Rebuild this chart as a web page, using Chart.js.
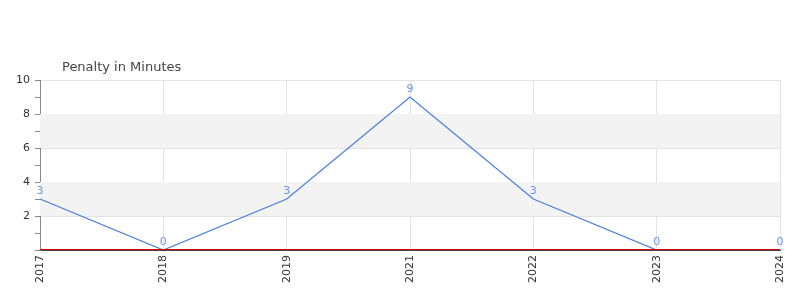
<!DOCTYPE html>
<html><head><meta charset="utf-8">
<script src="https://cdn.jsdelivr.net/npm/chart.js@4"></script>
<style>html,body{margin:0;padding:0;background:#fff}#wrap{width:800px;height:300px}</style>
</head><body><div id="wrap"><canvas id="c" width="800" height="300"></canvas></div>
<script>
const categories = ["2017","2018","2019","2021","2022","2023","2024"];
const penaltyMinutes = [3,0,3,9,3,0,0];
const titleText = "Penalty in Minutes";
const yTickLabels = [2,4,6,8,10];

const FONT = "'DejaVu Sans', sans-serif";

const bgPlugin = {
  id:'bands',
  beforeDatasetsDraw(chart){
    const {ctx, chartArea:a, scales:{y}} = chart;
    ctx.save();
    ctx.fillStyle = '#f3f3f3';
    [[2,4],[6,8]].forEach(([lo,hi])=>{
      const t = y.getPixelForValue(hi), b = y.getPixelForValue(lo);
      ctx.fillRect(a.left, t, a.right-a.left, b-t);
    });
    ctx.restore();
  },
  afterDatasetsDraw(chart){
    const {ctx, chartArea:a, scales:{x,y}} = chart;
    ctx.save();
    // zero line
    const z = Math.round(y.getPixelForValue(0)) - 1;
    ctx.fillStyle = '#dd0000';
    ctx.fillRect(a.left, z, a.right-a.left, 1);
    // data labels
    ctx.fillStyle = '#6a93e8';
    ctx.font = "11px " + FONT;
    ctx.textAlign = 'center'; ctx.textBaseline = 'middle';
    const meta = chart.getDatasetMeta(0);
    meta.data.forEach((p,i)=>{
      ctx.fillText(String(penaltyMinutes[i]), p.x, p.y - 8);
    });
    // title
    ctx.fillStyle = '#444';
    ctx.font = "13px " + FONT;
    ctx.textAlign = 'left'; ctx.textBaseline = 'middle';
    ctx.fillText(titleText, 62, 67.5);
    ctx.restore();
  }
};

new Chart(document.getElementById('c'), {
  type:'line',
  data:{ labels: categories, datasets:[{
    data: penaltyMinutes, borderColor:'#4a7fe0', borderWidth:1.3, pointRadius:0, tension:0, fill:false
  }]},
  options:{
    responsive:false, animation:false,
    layout:{padding:{top:80, right:20, left:0, bottom:0}},
    plugins:{legend:{display:false}, tooltip:{enabled:false}},
    scales:{
      x:{
        offset:false,
        grid:{color:'#e3e3e3', drawTicks:false},
        border:{color:'#444', width:1},
        ticks:{font:{family:FONT,size:11}, color:'#333', minRotation:90, maxRotation:90, padding:5, autoSkip:false},
        afterFit(s){ s.height = 50; }
      },
      y:{
        min:0, max:10,
        grid:{
          color: c => (c.tick && yTickLabels.includes(c.tick.value)) ? '#e3e3e3' : 'rgba(0,0,0,0)',
          tickColor:'#888', tickLength:5
        },
        border:{color:'#888', width:1},
        ticks:{stepSize:1, font:{family:FONT,size:11}, color:'#333', padding:5,
          callback: v => yTickLabels.includes(v) ? String(v) : ''},
        afterFit(s){ s.width = 40; }
      }
    }
  },
  plugins:[bgPlugin]
});
</script></body></html>
